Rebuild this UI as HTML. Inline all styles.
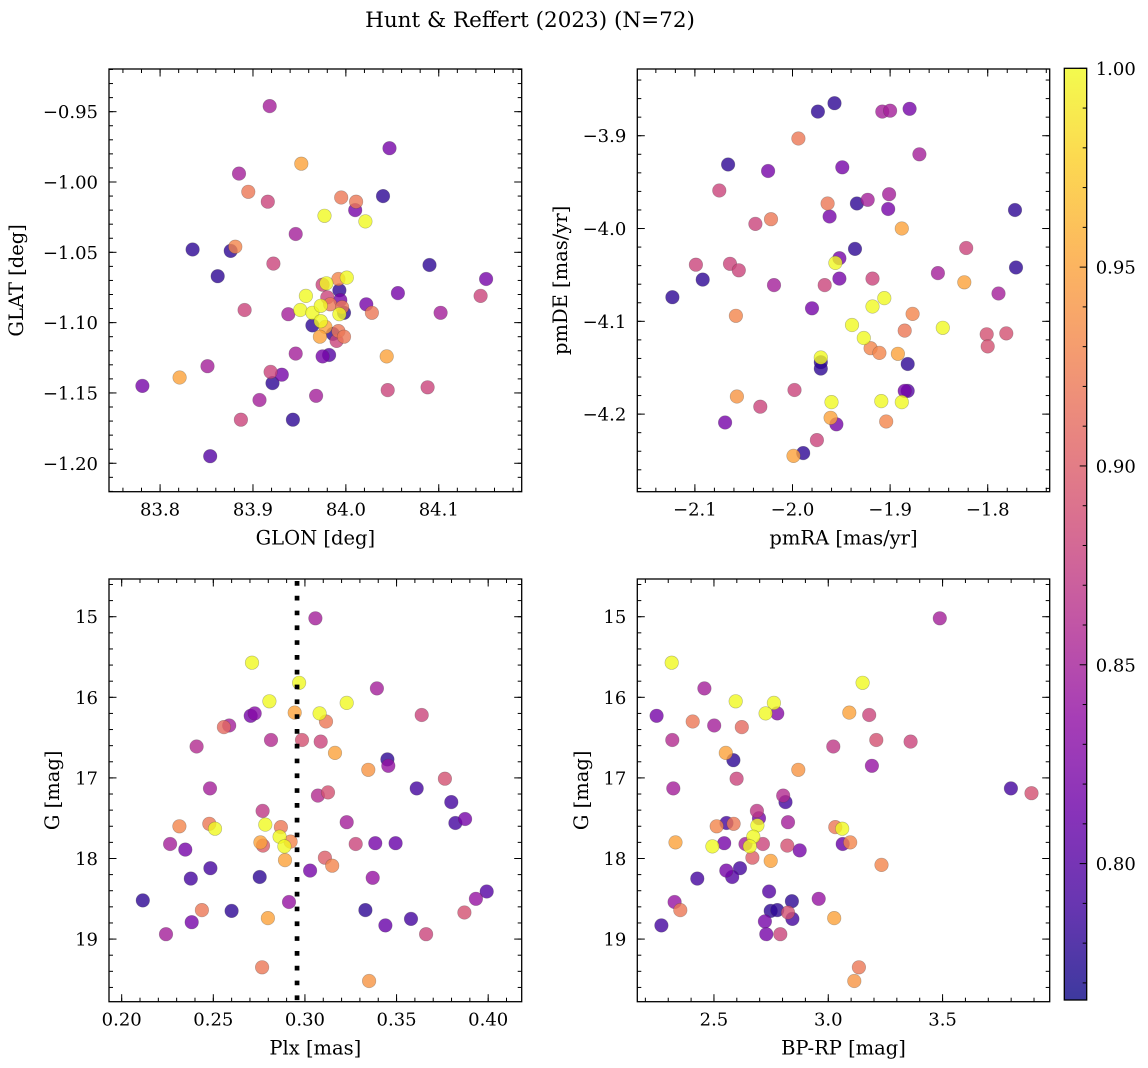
<!DOCTYPE html>
<html><head><meta charset="utf-8">
<style>
html,body{margin:0;padding:0;background:#fff;}
svg{display:block;font-family:"DejaVu Serif","Liberation Serif",serif;}
</style></head>
<body>
<svg id="fig" width="1148" height="1068" viewBox="0 0 1148 1068" xmlns="http://www.w3.org/2000/svg">
<rect width="1148" height="1068" fill="#fff"/>
<text x="530" y="27" font-size="21.5" text-anchor="middle">Hunt &amp; Reffert (2023) (N=72)</text>
</svg>
<script>
// ---- data ----
const tlGlon=[83.918,84.047,83.952,83.885,83.895,83.916,83.995,84.011,84.010,84.040,83.977,84.021,83.946,83.835,83.876,83.881,83.922,84.090,84.151,83.862,84.056,84.145,84.022,84.028,84.102,83.891,83.938,83.979,83.975,83.992,84.001,83.993,83.957,83.980,83.994,83.983,83.951,83.964,83.973,83.996,83.993,83.998,83.964,83.973,83.978,83.972,83.986,83.992,83.990,83.998,83.946,83.975,83.982,84.044,83.851,83.821,83.919,83.931,83.921,83.781,84.045,84.088,83.968,83.907,83.887,83.943,83.854];
const tlGlat=[-0.946,-0.976,-0.987,-0.994,-1.007,-1.014,-1.011,-1.014,-1.020,-1.010,-1.024,-1.028,-1.037,-1.048,-1.049,-1.046,-1.058,-1.059,-1.069,-1.067,-1.079,-1.081,-1.087,-1.093,-1.093,-1.091,-1.094,-1.072,-1.073,-1.069,-1.068,-1.077,-1.081,-1.082,-1.084,-1.087,-1.091,-1.093,-1.088,-1.089,-1.094,-1.093,-1.102,-1.099,-1.103,-1.110,-1.108,-1.106,-1.113,-1.110,-1.122,-1.124,-1.123,-1.124,-1.131,-1.139,-1.135,-1.137,-1.143,-1.145,-1.148,-1.146,-1.152,-1.155,-1.169,-1.169,-1.195];
const tlProb=[.85,.82,.95,.85,.92,.88,.92,.92,.82,.78,1,1,.85,.78,.78,.93,.88,.78,.82,.78,.82,.88,.82,.92,.85,.88,.85,1,.88,.93,1,.78,1,.88,.82,.92,1,1,1,.92,1,.78,.78,1,.95,.95,.78,.92,.88,.92,.85,.82,.80,.95,.85,.95,.88,.82,.78,.82,.88,.88,.85,.85,.88,.78,.80];

const trPmra=[-1.957,-1.974,-1.908,-1.900,-1.880,-1.994,-1.870,-2.066,-2.025,-1.949,-2.075,-1.964,-1.934,-1.923,-1.901,-1.902,-1.962,-1.772,-2.038,-2.022,-1.888,-1.936,-1.952,-1.956,-1.822,-1.771,-2.099,-2.064,-2.055,-2.092,-1.851,-2.019,-1.967,-1.952,-1.918,-1.824,-2.123,-1.789,-1.906,-1.918,-1.980,-2.058,-1.877,-1.939,-1.846,-1.885,-1.801,-1.781,-1.800,-1.927,-1.920,-1.911,-1.892,-1.971,-1.971,-1.971,-1.882,-1.885,-1.882,-1.998,-2.057,-2.033,-2.069,-1.960,-1.909,-1.888,-1.961,-1.955,-1.904,-1.975,-1.989,-1.999];
const trPmde=[-3.865,-3.874,-3.874,-3.873,-3.871,-3.903,-3.920,-3.931,-3.938,-3.934,-3.959,-3.973,-3.973,-3.969,-3.963,-3.979,-3.987,-3.980,-3.995,-3.990,-4.000,-4.022,-4.032,-4.037,-4.021,-4.042,-4.039,-4.038,-4.045,-4.055,-4.048,-4.061,-4.061,-4.054,-4.054,-4.058,-4.074,-4.070,-4.075,-4.084,-4.086,-4.094,-4.092,-4.104,-4.107,-4.110,-4.114,-4.113,-4.127,-4.118,-4.129,-4.134,-4.135,-4.139,-4.144,-4.151,-4.146,-4.175,-4.175,-4.174,-4.181,-4.192,-4.209,-4.187,-4.186,-4.187,-4.204,-4.211,-4.208,-4.228,-4.242,-4.245];
const trProb=[.78,.78,.85,.85,.82,.92,.85,.78,.82,.82,.88,.92,.78,.85,.85,.82,.82,.78,.88,.92,.95,.78,.82,1,.88,.78,.88,.88,.88,.78,.85,.85,.88,.82,.88,.95,.78,.85,1,1,.82,.93,.93,1,1,.92,.89,.89,.89,1,.93,.93,.95,1,.78,.78,.78,.82,.80,.88,.94,.88,.82,1,1,1,.95,.82,.93,.88,.78,.95];

const blPlx=[.3057,.2711,.2968,.3393,.2806,.3228,.3637,.2704,.2726,.2944,.3080,.3115,.2558,.2587,.2815,.2984,.3086,.2409,.3164,.3450,.3455,.3346,.3764,.2482,.3610,.3071,.3126,.3799,.2769,.3228,.3821,.3874,.2315,.2478,.2509,.2784,.2869,.2862,.2922,.2757,.2771,.2888,.2264,.2347,.3277,.3384,.3495,.2891,.3109,.3149,.2484,.2377,.2753,.3028,.3370,.3992,.2115,.2913,.3933,.2438,.2600,.3330,.2798,.3579,.3870,.2382,.3439,.2242,.3661,.2766,.3350];
const blG=[15.02,15.57,15.82,15.89,16.05,16.07,16.22,16.23,16.20,16.19,16.20,16.30,16.37,16.35,16.53,16.53,16.55,16.61,16.69,16.77,16.85,16.90,17.01,17.13,17.13,17.22,17.18,17.30,17.41,17.55,17.56,17.51,17.60,17.57,17.63,17.58,17.61,17.73,17.79,17.80,17.84,17.85,17.82,17.89,17.82,17.81,17.81,18.02,17.99,18.09,18.12,18.25,18.23,18.15,18.24,18.41,18.52,18.54,18.50,18.64,18.65,18.64,18.74,18.75,18.67,18.79,18.83,18.94,18.94,19.35,19.52];
const blProb=[.85,1,1,.85,1,1,.88,.82,.83,.95,1,.92,.91,.85,.86,.89,.88,.86,.95,.78,.84,.94,.89,.85,.79,.86,.89,.79,.87,.85,.79,.82,.93,.92,1,1,.92,1,.93,.95,.90,1,.85,.82,.88,.82,.81,.95,.90,.93,.79,.79,.78,.82,.84,.80,.78,.84,.84,.92,.78,.78,.95,.79,.89,.82,.81,.85,.88,.92,.94];

const brBprp=[3.488,2.315,3.150,2.458,2.595,2.762,2.249,2.726,2.777,3.092,3.179,2.407,2.501,2.622,2.318,3.210,3.360,3.022,2.552,2.585,3.191,2.869,2.599,2.322,3.799,3.889,2.803,2.813,2.688,2.697,2.824,2.555,2.512,2.586,2.690,3.031,3.061,2.332,2.493,2.545,2.672,2.657,2.638,2.714,2.821,2.875,3.063,3.096,2.668,2.748,3.233,2.614,2.554,2.580,2.427,2.741,2.841,2.958,2.328,2.353,2.748,2.777,2.824,3.026,2.843,2.270,2.723,2.729,2.790,3.134,3.114];
const brG=[15.02,15.57,15.82,15.89,16.05,16.07,16.23,16.20,16.20,16.19,16.22,16.30,16.35,16.37,16.53,16.53,16.55,16.61,16.69,16.78,16.85,16.90,17.01,17.13,17.13,17.19,17.22,17.30,17.41,17.50,17.55,17.56,17.60,17.57,17.59,17.61,17.63,17.80,17.85,17.81,17.73,17.85,17.82,17.82,17.84,17.90,17.82,17.80,17.99,18.03,18.08,18.12,18.15,18.23,18.25,18.41,18.53,18.50,18.54,18.64,18.65,18.64,18.67,18.74,18.75,18.83,18.78,18.94,18.94,19.35,19.52];
const brProb=[.85,1,1,.85,1,1,.82,1,.83,.95,.88,.92,.85,.91,.86,.89,.88,.87,.95,.78,.84,.94,.88,.85,.79,.89,.86,.79,.87,.82,.85,.79,.93,.92,1,.92,1,.95,1,.82,1,1,.85,.88,.89,.82,.81,.93,.90,.95,.93,.79,.82,.80,.79,.80,.78,.84,.84,.92,.78,.78,.89,.95,.79,.79,.82,.82,.88,.92,.94];

const plxLine=[0.2957];
const cbarTicks=[0.80,0.85,0.90,0.95,1.00];

// ---- rendering ----
const NS='http://www.w3.org/2000/svg';
const svg=document.getElementById('fig');
function mk(tag,attrs,parent){const e=document.createElementNS(NS,tag);for(const k in attrs)e.setAttribute(k,attrs[k]);(parent||svg).appendChild(e);return e;}
const VMIN=0.7657,VMAX=1.0;
const TFS=18, LFS=19.5;
const stops=[[13,8,135],[65,4,157],[106,0,168],[143,13,164],[177,42,144],[204,71,120],[225,100,98],[242,132,75],[252,166,54],[252,206,37],[240,249,33]];
function plasma(t){t=Math.max(0,Math.min(1,t));const f=t*10,i=Math.min(9,Math.floor(f)),u=f-i;const a=stops[i],b=stops[i+1];return [0,1,2].map(k=>Math.round(a[k]+(b[k]-a[k])*u));}
function col(p){const c=plasma((p-VMIN)/(VMAX-VMIN));return 'rgba('+c[0]+','+c[1]+','+c[2]+',0.8)';}
function fmt(v,d){return (v<0?'\u2212':'')+Math.abs(v).toFixed(d);}

function panel(cfg){
  const g=mk('g',{});
  
  
  const {x0,x1,y0,y1}=cfg;
  const sx=v=>x0+(v-cfg.xd[0])/(cfg.xd[1]-cfg.xd[0])*(x1-x0);
  const sy=v=>y0+(v-cfg.yd[0])/(cfg.yd[1]-cfg.yd[0])*(y1-y0);
  const idx=cfg.xs.map((_,i)=>i).sort((a,b)=>cfg.ps[a]-cfg.ps[b]);
  const pg=mk('g',{},g);
  for(const i of idx){
    const c=mk('circle',{cx:sx(cfg.xs[i]).toFixed(1),cy:sy(cfg.ys[i]).toFixed(1),r:6.8,fill:col(cfg.ps[i]),stroke:'rgba(60,60,60,0.35)','stroke-width':0.6},pg);
    
    
  }
  if(cfg.vline){for(const v of cfg.vline){const l=mk('line',{x1:sx(v),x2:sx(v),y1:y0+2,y2:y1,stroke:'#000','stroke-width':4.7,'stroke-dasharray':'4.7 10.1'},g);
    
    }}
  const tg=mk('g',{stroke:'#000','stroke-width':1},g);
  const eps=1e-9;
  function ticksX(step,len){const s=Math.ceil((Math.min(...cfg.xd)-eps)/step);const e=Math.floor((Math.max(...cfg.xd)+eps)/step);for(let k=s;k<=e;k++){const X=sx(k*step);mk('line',{x1:X,x2:X,y1:y1,y2:y1-len},tg);mk('line',{x1:X,x2:X,y1:y0,y2:y0+len},tg);}}
  function ticksY(step,len){const s=Math.ceil((Math.min(...cfg.yd)-eps)/step);const e=Math.floor((Math.max(...cfg.yd)+eps)/step);for(let k=s;k<=e;k++){const Y=sy(k*step);mk('line',{x1:x0,x2:x0+len,y1:Y,y2:Y},tg);mk('line',{x1:x1,x2:x1-len,y1:Y,y2:Y},tg);}}
  ticksX(cfg.xminor,4);ticksY(cfg.yminor,4);
  for(const v of cfg.xt){const X=sx(v);mk('line',{x1:X,x2:X,y1:y1,y2:y1-7.5},tg);mk('line',{x1:X,x2:X,y1:y0,y2:y0+7.5},tg);
    const t=mk('text',{x:X,y:y1+24,'font-size':TFS,'text-anchor':'middle'},g);t.textContent=fmt(v,cfg.xdec);
    
    }
  for(const v of cfg.yt){const Y=sy(v);mk('line',{x1:x0,x2:x0+7.5,y1:Y,y2:Y},tg);mk('line',{x1:x1,x2:x1-7.5,y1:Y,y2:Y},tg);
    const t=mk('text',{x:x0-11,y:Y+6.5,'font-size':TFS,'text-anchor':'end'},g);t.textContent=fmt(v,cfg.ydec);
    
    }
  const fr=mk('rect',{x:x0,y:y0,width:x1-x0,height:y1-y0,fill:'none',stroke:'#000','stroke-width':1.3},g);
  
  
  const xl=mk('text',{x:(x0+x1)/2,y:y1+53,'font-size':LFS,'text-anchor':'middle'},g);xl.textContent=cfg.xlabel;
  
  
  const yl=mk('text',{x:0,y:0,'font-size':LFS,'text-anchor':'middle',transform:'translate('+cfg.ylx+','+((y0+y1)/2)+') rotate(-90)'},g);yl.textContent=cfg.ylabel;
  
  
}

panel({name:'glon-glat-panel',x0:109,x1:521.7,y0:69,y1:491.7,xd:[83.745,84.1893],yd:[-0.91965,-1.22022],
  xs:tlGlon,ys:tlGlat,ps:tlProb,xt:[83.8,83.9,84.0,84.1],yt:[-0.95,-1.0,-1.05,-1.10,-1.15,-1.20],xdec:1,ydec:2,xminor:0.02,yminor:0.01,
  xlabel:'GLON [deg]',ylabel:'GLAT [deg]',ylx:23});
panel({name:'proper-motion-panel',x0:637.3,x1:1049.7,y0:69,y1:491.7,xd:[-2.1590,-1.7365],yd:[-3.8281,-4.2836],
  xs:trPmra,ys:trPmde,ps:trProb,xt:[-2.1,-2.0,-1.9,-1.8],yt:[-3.9,-4.0,-4.1,-4.2],xdec:1,ydec:1,xminor:0.02,yminor:0.02,
  xlabel:'pmRA [mas/yr]',ylabel:'pmDE [mas/yr]',ylx:567});
panel({name:'parallax-magnitude-panel',x0:109,x1:521.7,y0:579,y1:1001.7,xd:[0.19308,0.41829],yd:[14.532,19.777],
  xs:blPlx,ys:blG,ps:blProb,xt:[0.20,0.25,0.30,0.35,0.40],yt:[15,16,17,18,19],xdec:2,ydec:0,xminor:0.01,yminor:0.2,
  xlabel:'Plx [mas]',ylabel:'G [mag]',ylx:59,vline:plxLine});
panel({name:'color-magnitude-panel',x0:637.3,x1:1049.7,y0:579,y1:1001.7,xd:[2.1647,3.9686],yd:[14.532,19.777],
  xs:brBprp,ys:brG,ps:brProb,xt:[2.5,3.0,3.5],yt:[15,16,17,18,19],xdec:1,ydec:0,xminor:0.1,yminor:0.2,
  xlabel:'BP-RP [mag]',ylabel:'G [mag]',ylx:588});

(function(){
  const cx0=1064.3,cx1=1086.7,cy0=68.3,cy1=1000;
  const cg=mk('g',{});
  
  
  const defs=mk('defs',{},cg);
  const lg=mk('linearGradient',{id:'pl',x1:0,y1:1,x2:0,y2:0},defs);
  for(let i=0;i<=20;i++){const c=plasma(i/20);mk('stop',{offset:(i/20),'stop-color':'rgb('+c.join(',')+')','stop-opacity':0.8},lg);}
  mk('rect',{x:cx0,y:cy0,width:cx1-cx0,height:cy1-cy0,fill:'url(#pl)'},cg);
  const sy=v=>cy1-(v-VMIN)/(VMAX-VMIN)*(cy1-cy0);
  for(let k=77;k<=100;k++){const v=k/100,Y=sy(v);const major=(k%5===0);
    mk('line',{x1:cx1,x2:cx1-(major?7:4),y1:Y,y2:Y,stroke:'#000','stroke-width':1},cg);}
  for(const v of cbarTicks){const t=mk('text',{x:cx1+9,y:sy(v)+6.5,'font-size':TFS},cg);t.textContent=v.toFixed(2);
    
    }
  mk('rect',{x:cx0,y:cy0,width:cx1-cx0,height:cy1-cy0,fill:'none',stroke:'#000','stroke-width':1.3},cg);
})();
</script>
</body></html>
